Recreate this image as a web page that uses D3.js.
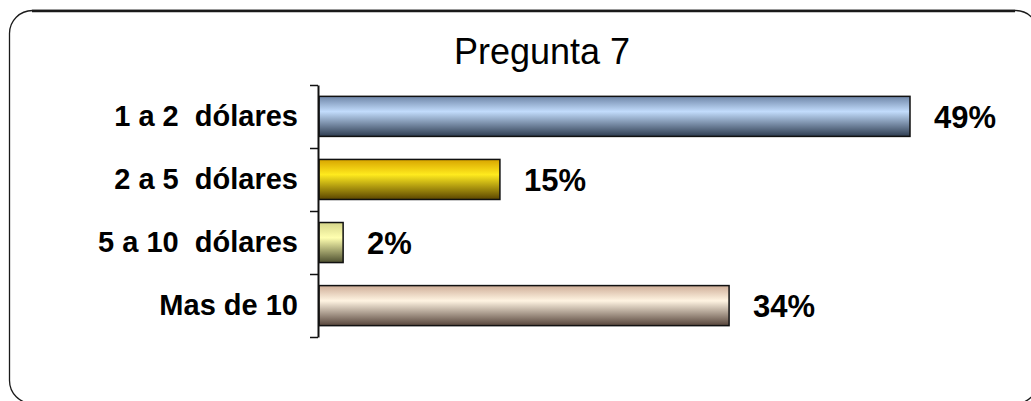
<!DOCTYPE html>
<html>
<head>
<meta charset="utf-8">
<script src="https://cdn.jsdelivr.net/npm/d3@7"></script>
<style>
  html, body { margin: 0; padding: 0; background: #fff; }
  svg { display: block; }
  text { font-family: Arial, "Liberation Sans", sans-serif; fill: #000; }
</style>
</head>
<body>
<svg id="chart" width="1031" height="401"></svg>
<script>
// Survey answers: amount willing to pay
const categories = ["1 a 2  dólares", "2 a 5  dólares", "5 a 10  dólares", "Mas de 10"];
const percentages = [49, 15, 2, 34];
const valueLabels = ["49%", "15%", "2%", "34%"];
const chartTitle = "Pregunta 7";

// Bar fills: vertical gradients [top, highlight, bottom]
const barGradients = [
  ["#6f86a8", "#c2dcfc", "#2e3c50"],
  ["#d8a400", "#ffea1e", "#5a4400"],
  ["#d6d68a", "#ffffb0", "#4e5030"],
  ["#cfae98", "#fff4e2", "#56443a"]
];

const svg = d3.select("#chart");

// Rounded frame around the chart area
svg.append("rect")
  .attr("x", 9.5).attr("y", 10.5)
  .attr("width", 1029).attr("height", 393)
  .attr("rx", 23).attr("ry", 23)
  .attr("fill", "none")
  .attr("stroke", "#1a1a1a")
  .attr("stroke-width", 1.3);
svg.append("line")
  .attr("x1", 32).attr("x2", 1015)
  .attr("y1", 11).attr("y2", 11)
  .attr("stroke", "#1a1a1a")
  .attr("stroke-width", 2.4);

// Title
svg.append("text")
  .attr("x", 542).attr("y", 64)
  .attr("text-anchor", "middle")
  .style("font-size", "36px")
  .text(chartTitle);

const axisX = 318;
const y = d3.scaleBand()
  .domain(categories)
  .range([85, 337])
  .paddingInner(0.365)
  .paddingOuter(0.18);

const x = d3.scaleLinear()
  .domain([0, 49])
  .range([axisX + 1, 910]);

// Gradient definitions
const defs = svg.append("defs");
barGradients.forEach((g, i) => {
  const lg = defs.append("linearGradient")
    .attr("id", "grad" + i)
    .attr("x1", 0).attr("y1", 0).attr("x2", 0).attr("y2", 1);
  lg.append("stop").attr("offset", "0%").attr("stop-color", g[0]);
  lg.append("stop").attr("offset", "38%").attr("stop-color", g[1]);
  lg.append("stop").attr("offset", "100%").attr("stop-color", g[2]);
});

// Bars
svg.append("g").selectAll("rect")
  .data(categories)
  .join("rect")
  .attr("x", x(0))
  .attr("y", d => y(d))
  .attr("width", (d, i) => x(percentages[i]) - x(0))
  .attr("height", y.bandwidth())
  .attr("fill", (d, i) => `url(#grad${i})`)
  .attr("stroke", "#111")
  .attr("stroke-width", 1.5);

// Value labels
svg.append("g").selectAll("text")
  .data(categories)
  .join("text")
  .attr("x", (d, i) => x(percentages[i]) + 24)
  .attr("y", d => y(d) + y.bandwidth() / 2)
  .attr("dy", "0.36em")
  .style("font-size", "31px")
  .style("font-weight", "bold")
  .text((d, i) => valueLabels[i]);

// Vertical axis with ticks at category boundaries
const edge = d3.scaleLinear().domain([0, categories.length]).range([85, 337]);
const axisG = svg.append("g")
  .attr("transform", `translate(${axisX},0)`)
  .call(d3.axisLeft(edge).ticks(categories.length).tickFormat("").tickSize(8).tickSizeOuter(0));
axisG.select(".domain").attr("stroke", "#111").attr("stroke-width", 2);
axisG.selectAll(".tick line").attr("stroke", "#111").attr("stroke-width", 1.5);

// Category labels
const catAxis = svg.append("g")
  .attr("transform", `translate(${axisX - 20},0)`)
  .call(d3.axisLeft(y).tickSize(0).tickPadding(0));
catAxis.select(".domain").remove();
catAxis.selectAll("text")
  .attr("xml:space", "preserve")
  .style("white-space", "pre")
  .style("font-size", "29px")
  .style("font-weight", "bold")
  .style("font-family", "Arial, 'Liberation Sans', sans-serif")
  .attr("fill", "#000");
</script>
</body>
</html>
